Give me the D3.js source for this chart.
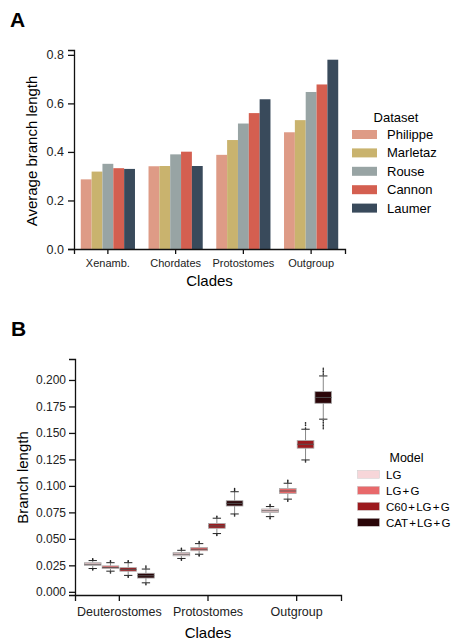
<!DOCTYPE html>
<html>
<head>
<meta charset="utf-8">
<script src="https://cdn.jsdelivr.net/npm/d3@7"></script>
<style>
  body { margin: 0; background: #fff; }
  svg { display: block; font-family: "Liberation Sans", Arial, sans-serif; }
</style>
</head>
<body>
<script>
// sizes
let w = 453, h = 639;

// ---- panel A data ----
let cladesA = ["Xenamb.", "Chordates", "Protostomes", "Outgroup"];
let datasets = ["Philippe", "Marletaz", "Rouse", "Cannon", "Laumer"];
let dsColors = ["#DE9B86", "#C9B36E", "#98A4A4", "#D45F50", "#394A5B"];
// one row per dataset, one value per clade
let avgBranch = [
  [0.287, 0.341, 0.388, 0.481],
  [0.319, 0.342, 0.449, 0.531],
  [0.351, 0.390, 0.517, 0.647],
  [0.333, 0.401, 0.560, 0.678],
  [0.330, 0.342, 0.617, 0.780]
];
let ticksA = [0, 0.2, 0.4, 0.6, 0.8];

// ---- panel B data ----
let cladesB = ["Deuterostomes", "Protostomes", "Outgroup"];
let models = ["LG", "LG + G", "C60 + LG + G", "CAT + LG + G"];
let modelColors = ["#F7D6D9", "#E8696B", "#9C1A1E", "#2A0508"];
// one row per model, one value per clade
let medians = [
  [0.0260, 0.0355, 0.0765],
  [0.0230, 0.0402, 0.0952],
  [0.0212, 0.0622, 0.1393],
  [0.0152, 0.0835, 0.1835]
];
let q1s = [
  [0.0248, 0.0340, 0.0748],
  [0.0220, 0.0388, 0.0928],
  [0.0195, 0.0600, 0.1356],
  [0.0130, 0.0810, 0.1780]
];
let q3s = [
  [0.0275, 0.0370, 0.0782],
  [0.0245, 0.0418, 0.0975],
  [0.0228, 0.0645, 0.1428],
  [0.0175, 0.0860, 0.1890]
];
let whiskLo = [
  [0.0220, 0.0315, 0.0710],
  [0.0195, 0.0355, 0.0875],
  [0.0155, 0.0550, 0.1245],
  [0.0085, 0.0735, 0.1630]
];
let whiskHi = [
  [0.0295, 0.0392, 0.0805],
  [0.0275, 0.0455, 0.1025],
  [0.0275, 0.0695, 0.1535],
  [0.0215, 0.0945, 0.2038]
];
let outliers = [
  [[0.0305, 0.0312, 0.0213, 0.0206], [0.0402, 0.0410, 0.0307, 0.0299], [0.0815, 0.0824, 0.0700, 0.0691]],
  [[0.0285, 0.0293, 0.0187, 0.0178], [0.0465, 0.0474, 0.0346, 0.0338], [0.1035, 0.1045, 0.1054, 0.0866, 0.0856]],
  [[0.0285, 0.0294, 0.0146, 0.0137], [0.0705, 0.0714, 0.0541, 0.0532], [0.1545, 0.1570, 0.1585, 0.1595, 0.1236, 0.1226]],
  [[0.0225, 0.0234, 0.0244, 0.0076, 0.0067], [0.0955, 0.0965, 0.0975, 0.0726, 0.0716],
   [0.2050, 0.2065, 0.2080, 0.2095, 0.2110, 0.1615, 0.1600, 0.1585, 0.1570, 0.1555, 0.1540]]
];
let ticksB = [0, 0.025, 0.05, 0.075, 0.1, 0.125, 0.15, 0.175, 0.2];

let svg = d3.select("body").append("svg")
  .attr("width", w)
  .attr("height", h);

// ================= Panel A =================
let xA = d3.scaleBand().domain(cladesA).range([74, 345]).paddingInner(0.2).paddingOuter(0.1);
let xAin = d3.scaleBand().domain(datasets).range([0, xA.bandwidth()]);
let yA = d3.scaleLinear().domain([0, 0.82]).range([249, 50]);

let gA = svg.append("g");

datasets.forEach(function(ds, i) {
  gA.selectAll(".bar" + i)
    .data(avgBranch[i])
    .enter()
    .append("rect")
    .attr("x", function(d, j) { return xA(cladesA[j]) + xAin(ds); })
    .attr("y", function(d) { return yA(d); })
    .attr("width", xAin.bandwidth())
    .attr("height", function(d) { return yA(0) - yA(d); })
    .attr("fill", dsColors[i]);
});

let yAxisA = gA.append("g")
  .attr("transform", "translate(74,0)")
  .call(d3.axisLeft(yA).tickValues(ticksA).tickFormat(d3.format(".1f")).tickSize(6).tickPadding(4));
let xAxisA = gA.append("g")
  .attr("transform", "translate(0,249)")
  .call(d3.axisBottom(xA).tickSize(5).tickPadding(5));

styleAxis(yAxisA, 12.5);
styleAxis(xAxisA, 11);

gA.append("text")
  .attr("transform", "translate(37,151) rotate(-90)")
  .attr("text-anchor", "middle")
  .style("font-size", "15px")
  .text("Average branch length");
gA.append("text")
  .attr("x", 209.5).attr("y", 286)
  .attr("text-anchor", "middle")
  .style("font-size", "15px")
  .text("Clades");
svg.append("text")
  .attr("x", 10).attr("y", 27)
  .style("font-size", "21px").style("font-weight", "bold")
  .text("A");

// legend A
let legA = svg.append("g");
legA.append("text")
  .attr("x", 396).attr("y", 121.5)
  .attr("text-anchor", "middle")
  .style("font-size", "13px")
  .text("Dataset");
datasets.forEach(function(ds, i) {
  let cy = 134.5 + i * 18.4;
  legA.append("rect")
    .attr("x", 352).attr("y", cy - 4.5)
    .attr("width", 25).attr("height", 9)
    .attr("fill", dsColors[i]);
  legA.append("text")
    .attr("x", 387).attr("y", cy + 4.5)
    .style("font-size", "13px")
    .text(ds);
});

// ================= Panel B =================
let xB = d3.scaleBand().domain(cladesB).range([75, 341]).paddingInner(0.2).paddingOuter(0.1);
let xBin = d3.scaleBand().domain(models).range([0, xB.bandwidth()]);
let yB = d3.scaleLinear().domain([-0.003, 0.2198]).range([595, 359]);

let gB = svg.append("g");
let boxW = xBin.bandwidth() * 0.94;
let capW = boxW * 0.5;

models.forEach(function(m, i) {
  cladesB.forEach(function(c, j) {
    let cx = xB(c) + xBin(m) + xBin.bandwidth() / 2;
    let g = gB.append("g");
    // whiskers
    g.append("line")
      .attr("x1", cx).attr("x2", cx)
      .attr("y1", yB(whiskLo[i][j])).attr("y2", yB(q1s[i][j]))
      .attr("stroke", "#888").attr("stroke-width", 1);
    g.append("line")
      .attr("x1", cx).attr("x2", cx)
      .attr("y1", yB(q3s[i][j])).attr("y2", yB(whiskHi[i][j]))
      .attr("stroke", "#888").attr("stroke-width", 1);
    // caps
    [whiskLo[i][j], whiskHi[i][j]].forEach(function(v) {
      g.append("line")
        .attr("x1", cx - capW / 2).attr("x2", cx + capW / 2)
        .attr("y1", yB(v)).attr("y2", yB(v))
        .attr("stroke", "#222").attr("stroke-width", 1);
    });
    // outliers
    g.selectAll("circle")
      .data(outliers[i][j])
      .enter()
      .append("circle")
      .attr("cx", cx)
      .attr("cy", function(d) { return yB(d); })
      .attr("r", 0.8)
      .attr("fill", "#222");
    // box
    g.append("rect")
      .attr("x", cx - boxW / 2)
      .attr("y", yB(q3s[i][j]))
      .attr("width", boxW)
      .attr("height", yB(q1s[i][j]) - yB(q3s[i][j]))
      .attr("fill", modelColors[i])
      .attr("stroke", "#aaa").attr("stroke-width", 0.8);
    // median
    g.append("line")
      .attr("x1", cx - boxW / 2).attr("x2", cx + boxW / 2)
      .attr("y1", yB(medians[i][j])).attr("y2", yB(medians[i][j]))
      .attr("stroke", "#555").attr("stroke-width", 0.9);
  });
});

let yAxisB = gB.append("g")
  .attr("transform", "translate(75,0)")
  .call(d3.axisLeft(yB).tickValues(ticksB).tickFormat(d3.format(".3f")).tickSize(6).tickPadding(3));
let xAxisB = gB.append("g")
  .attr("transform", "translate(0,595)")
  .call(d3.axisBottom(xB).tickSize(6).tickPadding(6));

styleAxis(yAxisB, 12);
styleAxis(xAxisB, 12.5);

gB.append("text")
  .attr("transform", "translate(28,477.5) rotate(-90)")
  .attr("text-anchor", "middle")
  .style("font-size", "15px")
  .text("Branch length");
gB.append("text")
  .attr("x", 208).attr("y", 637.5)
  .attr("text-anchor", "middle")
  .style("font-size", "15px")
  .text("Clades");
svg.append("text")
  .attr("x", 11).attr("y", 336)
  .style("font-size", "21px").style("font-weight", "bold")
  .text("B");

// legend B
let legB = svg.append("g");
legB.append("text")
  .attr("x", 406.5).attr("y", 461.5)
  .attr("text-anchor", "middle")
  .style("font-size", "12.5px")
  .text("Model");
models.forEach(function(m, i) {
  let cy = 474.3 + i * 16;
  legB.append("rect")
    .attr("x", 357.5).attr("y", cy - 4)
    .attr("width", 22).attr("height", 8)
    .attr("fill", modelColors[i])
    .attr("stroke", "#ccc").attr("stroke-width", 0.5);
  legB.append("text")
    .attr("x", 386).attr("y", cy + 4.2)
    .style("font-size", "11.5px")
    .style("word-spacing", "-2px")
    .text(m);
});

function styleAxis(sel, fs) {
  sel.select(".domain").attr("stroke", "#111").attr("stroke-width", 1.3);
  sel.selectAll(".tick line").attr("stroke", "#111").attr("stroke-width", 1.3);
  sel.selectAll(".tick text")
    .attr("fill", "#222")
    .style("font-size", fs + "px")
    .style("font-family", "'Liberation Sans', Arial, sans-serif");
}
</script>
</body>
</html>
